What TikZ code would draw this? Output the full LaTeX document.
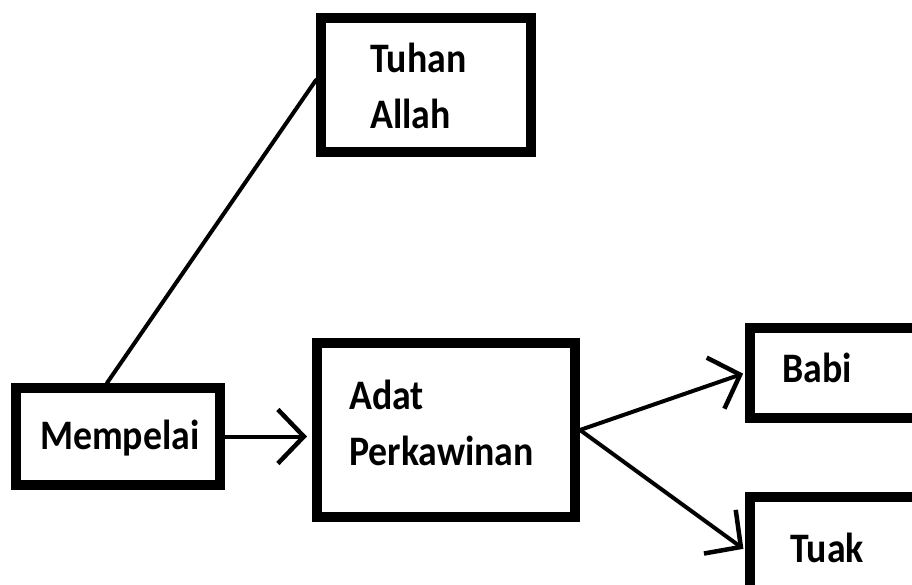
\documentclass[tikz,border=0pt]{standalone}
\usepackage{fontspec}
\setmainfont{Carlito}[FakeStretch=0.9]
\usetikzlibrary{arrows.meta,calc}
\tikzset{
  box/.style={draw=black, line width=10pt, fill=white, inner sep=0pt, minimum width=#1},
  box/.default=200pt,
  lbl/.style={inner sep=0pt, anchor=base west, align=left,
    font=\bfseries\fontsize{42}{56}\selectfont},
  conn/.style={line width=4pt, line cap=round},
  arr/.style={conn, -{Straight Barb[length=26pt, width=54pt, line width=4.5pt]}}
}
\begin{document}
\begin{tikzpicture}[x=1pt, y=-1pt]
  \useasboundingbox (0,0) rectangle (912,585);
  % boxes
  \node[box=210pt, minimum height=134pt] (tuhan) at (426,85) {};
  \node[box=204pt, minimum height=97pt] (mempelai) at (118,436.5) {};
  \node[box=258pt, minimum height=174pt] (adat) at (446,430) {};
  \node[box=210pt, minimum height=90pt] (babi) at (855,373) {};
  \node[box=210pt, minimum height=106pt] (tuak) at (855,550) {};
  % labels (multi-line labels sit on the baseline of their last line)
  \node[lbl] (tTuhan) at (370,129) {Tuhan\\Allah};
  \node[lbl] (tMempelai) at (40,449) {Mempelai};
  \node[lbl] (tAdat) at (349,465) {Adat\\Perkawinan};
  \node[lbl] (tBabi) at (782,382) {Babi};
  \node[lbl] (tTuak) at (790,562) {Tuak};
  % connectors
  \draw[conn] ($(mempelai.north)+(-11,0)$) -- ($(tuhan.west)+(0,-5)$);
  \draw[arr, shorten >=5pt] (mempelai.east) -- (mempelai.east -| adat.west);
  \draw[arr, shorten >=2pt] (adat.east) -- (babi.west);
  \draw[arr, shorten >=2pt] (adat.east) -- (tuak.west);
\end{tikzpicture}
\end{document}
